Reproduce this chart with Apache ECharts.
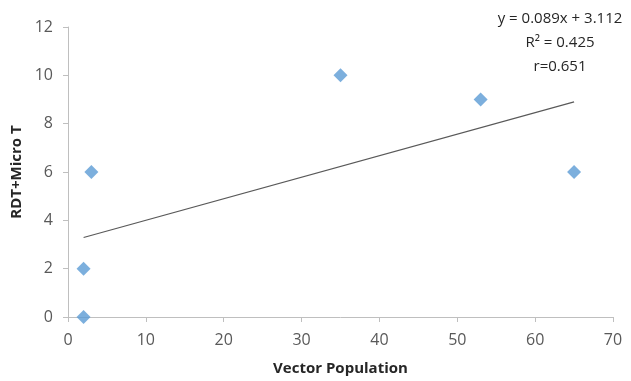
<!DOCTYPE html>
<html>
<head>
<meta charset="utf-8">
<script src="https://cdn.jsdelivr.net/npm/echarts@6/dist/echarts.min.js"></script>
<style>
  html, body { margin: 0; padding: 0; background: #fff; }
  #main { width: 631px; height: 381px; }
</style>
</head>
<body>
<div id="main"></div>
<script>
  // observed points
  var vectorPop = [2, 2, 3, 35, 53, 65];
  var rdtMicro = [0, 2, 6, 10, 9, 6];
  // linear trendline end points
  var trendX = [2, 65];
  var trendY = [3.29, 8.9];
  var eqLines = ['y = 0.089x + 3.112', 'R² = 0.425', 'r=0.651'];

  var chartDom = document.getElementById('main');
  var myChart = echarts.init(chartDom);
  var font = 'Open Sans';

  var points = vectorPop.map(function (x, i) { return [x, rdtMicro[i]]; });
  var trend = trendX.map(function (x, i) { return [x, trendY[i]]; });

  var option = {
    backgroundColor: '#fff',
    animation: false,
    grid: { left: 68, right: 18, top: 27, bottom: 61 },
    xAxis: {
      type: 'value',
      min: 0, max: 70, interval: 10,
      name: 'Vector Population',
      nameLocation: 'middle',
      nameGap: 44,
      nameTextStyle: { fontFamily: font, fontWeight: 'bold', fontSize: 15, color: '#262626' },
      axisLine: { show: true, lineStyle: { color: '#bfbfbf' } },
      axisTick: { show: true, length: 5, lineStyle: { color: '#bfbfbf' } },
      axisLabel: { fontFamily: font, fontSize: 16, color: '#595959', margin: 15 },
      splitLine: { show: false }
    },
    yAxis: {
      type: 'value',
      min: 0, max: 12, interval: 2,
      name: 'RDT+Micro T',
      nameLocation: 'middle',
      nameGap: 43,
      nameTextStyle: { fontFamily: font, fontWeight: 'bold', fontSize: 15, color: '#262626' },
      axisLine: { show: true, lineStyle: { color: '#bfbfbf' } },
      axisTick: { show: true, length: 5, lineStyle: { color: '#bfbfbf' } },
      axisLabel: { fontFamily: font, fontSize: 16, color: '#595959', margin: 15 },
      splitLine: { show: false }
    },
    series: [
      {
        type: 'line',
        data: trend,
        symbol: 'none',
        lineStyle: { color: '#595959', width: 1.2 },
        z: 1
      },
      {
        type: 'scatter',
        data: points,
        symbol: 'diamond',
        symbolSize: 14,
        itemStyle: { color: '#5b9bd5' },
        z: 2
      }
    ],
    graphic: eqLines.map(function (t, i) {
      return {
        type: 'text',
        x: 560, y: 19 + i * 24,
        style: {
          text: t,
          fontFamily: font, fontSize: 15, fill: '#262626',
          textAlign: 'center', textVerticalAlign: 'middle'
        }
      };
    })
  };
  option && myChart.setOption(option);
</script>
</body>
</html>
